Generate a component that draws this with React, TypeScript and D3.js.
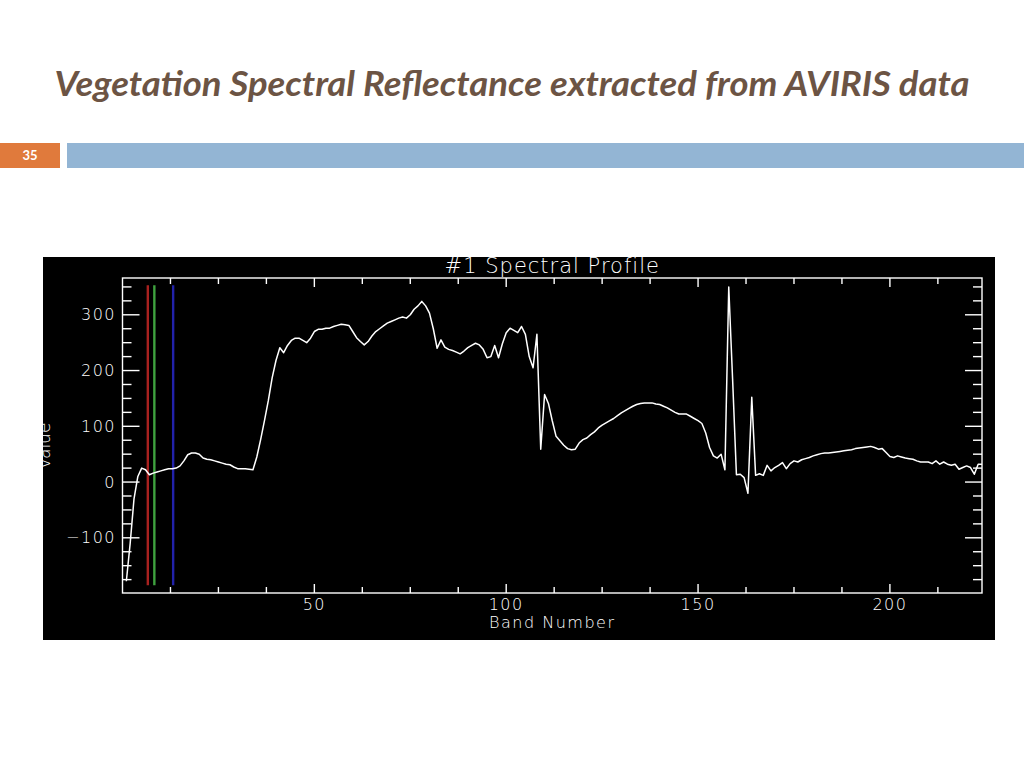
import * as React from 'react'
import * as d3 from 'd3'

// spectral profile values, one per band (1..224)
const profileValues: number[] = [
  -178, -110, -30, 10, 25, 22, 13, 16, 18, 20,
  22, 24, 24, 25, 29, 38, 49, 52, 52, 50,
  43, 41, 40, 38, 36, 34, 32, 31, 27, 24,
  24, 24, 23, 22, 45, 76, 110, 146, 187, 218,
  241, 232, 245, 254, 258, 258, 254, 250, 258, 270,
  274, 274, 276, 276, 279, 281, 283, 282, 281, 270,
  259, 252, 246, 252, 262, 270, 275, 280, 285, 288,
  291, 294, 296, 294, 300, 310, 316, 324, 316, 303,
  275, 240, 255, 242, 238, 236, 233, 230, 235, 241,
  245, 249, 246, 238, 223, 225, 245, 223, 248, 268,
  276, 272, 268, 279, 265, 225, 205, 265, 59, 157,
  141, 110, 82, 74, 66, 60, 58, 59, 70, 76,
  79, 85, 90, 97, 102, 106, 110, 114, 119, 124,
  128, 132, 136, 139, 141, 142, 142, 142, 140, 139,
  136, 133, 129, 125, 122, 122, 122, 118, 114, 110,
  105, 88, 62, 47, 43, 50, 22, 350, 185, 13,
  14, 8, -20, 152, 12, 15, 12, 30, 20, 26,
  30, 35, 24, 33, 38, 36, 40, 42, 44, 47,
  49, 51, 52, 52, 53, 54, 55, 56, 57, 58,
  60, 61, 62, 63, 64, 62, 59, 60, 53, 46,
  44, 47, 45, 43, 42, 41, 38, 36, 36, 36,
  33, 38, 32, 36, 32, 30, 32, 23, 26, 29,
  26, 14, 32, 32,
]
const bands = profileValues.map((_, i) => i + 1)

const xMajorTicks = [50, 100, 150, 200]
const xMinorTicks = d3.range(12.5, 224, 12.5)
const yMajorTicks = [-100, 0, 100, 200, 300]
const yMinorTicks = d3.range(-175, 366, 25)

// colored band markers (red, green, blue)
const markerBands = [6.6, 8.3, 13.2]
const markerColors = ['#a8211f', '#3fa23f', '#2222aa']
const markerRange = [-185, 353]

const W = 1024
const H = 768
const plot = { left: 122.5, right: 982, top: 278, bottom: 593 }
const hershey = '"DejaVu Sans", sans-serif'

export default function App() {
  const x = d3.scaleLinear().domain([0, 224]).range([plot.left, plot.right])
  const y = d3.scaleLinear().domain([-199, 366]).range([plot.bottom, plot.top])

  const line = d3.line<number>()
    .x((_, i) => x(bands[i]))
    .y(d => y(d))

  return (
    <svg width={W} height={H} style={{ position: 'absolute', left: 0, top: 0, background: '#fff' }}>
      <defs>
        <clipPath id="chartClip">
          <rect x={43} y={257} width={952} height={383} />
        </clipPath>
      </defs>

      <text x={512} y={96} textAnchor="middle" fontFamily="Lato, 'Open Sans', sans-serif"
        fontStyle="italic" fontWeight={700} fontSize={34} fill="#6c5444"
        textLength={915} lengthAdjust="spacingAndGlyphs">
        Vegetation Spectral Reflectance extracted from AVIRIS data
      </text>

      <rect x={0} y={143} width={60} height={25} fill="#e07a3c" />
      <text x={30} y={160} textAnchor="middle" fontFamily="Lato, sans-serif" fontWeight={700}
        fontSize={13} fill="#fff">35</text>
      <rect x={67} y={143} width={W - 67} height={25} fill="#93b5d4" />

      <rect x={43} y={257} width={952} height={383} fill="#000" />

      <g clipPath="url(#chartClip)" fontFamily={hershey} fill="#fff">
        <text x={(plot.left + plot.right) / 2} y={273} textAnchor="middle" fontSize={21}
          fontWeight={200} letterSpacing={1}>#1 Spectral Profile</text>
        <text transform="translate(50,446) rotate(-90)"
          textAnchor="middle" fontSize={17} fontWeight={200}>Value</text>
      </g>

      {markerBands.map((b, i) => (
        <line key={b} x1={x(b)} x2={x(b)} y1={y(markerRange[0])} y2={y(markerRange[1])}
          stroke={markerColors[i]} strokeWidth={2.4} />
      ))}

      <g stroke="#fff" strokeWidth={1.4} fill="none">
        <rect x={plot.left} y={plot.top} width={plot.right - plot.left} height={plot.bottom - plot.top} />
        {xMinorTicks.map(t => {
          const len = xMajorTicks.includes(t) ? 9 : 6
          return (
            <g key={'x' + t}>
              <line x1={x(t)} x2={x(t)} y1={plot.bottom} y2={plot.bottom - len} />
              <line x1={x(t)} x2={x(t)} y1={plot.top} y2={plot.top + len} />
            </g>
          )
        })}
        {yMinorTicks.map(t => {
          const len = yMajorTicks.includes(t) ? 17 : 9
          return (
            <g key={'y' + t}>
              <line x1={plot.left} x2={plot.left + len} y1={y(t)} y2={y(t)} />
              <line x1={plot.right} x2={plot.right - len} y1={y(t)} y2={y(t)} />
            </g>
          )
        })}
      </g>

      <path d={line(profileValues) ?? ''} fill="none" stroke="#fff" strokeWidth={1.5}
        strokeLinejoin="round" />

      <g fontFamily={hershey} fontSize={16} fontWeight={200} fill="#fff">
        {yMajorTicks.map(t => (
          <text key={t} x={116} y={y(t)} dy="0.35em" textAnchor="end" letterSpacing={1.5}>
            {t < 0 ? '\u2212' + Math.abs(t) : t}
          </text>
        ))}
        {xMajorTicks.map(t => (
          <text key={t} x={x(t)} y={604} dy="0.35em" textAnchor="middle" letterSpacing={1.5}>{t}</text>
        ))}
        <text x={(plot.left + plot.right) / 2} y={622} dy="0.35em" textAnchor="middle"
          letterSpacing={1.5}>Band Number</text>
      </g>
    </svg>
  )
}
